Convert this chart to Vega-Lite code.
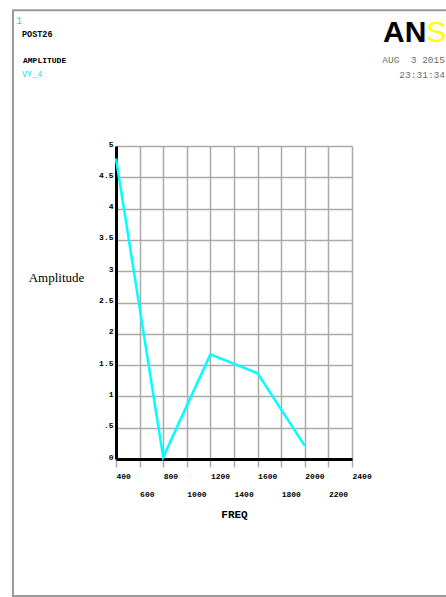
{
  "$schema": "https://vega.github.io/schema/vega-lite/v6.json",
  "autosize": {"type": "none"},
  "width": 236,
  "height": 313,
  "padding": {"left": 116, "top": 146, "right": 94, "bottom": 138},
  "background": "white",
  "config": {"view": {"stroke": null}},
  "resolve": {"scale": {"x": "shared", "y": "shared"}, "axis": {"x": "independent", "y": "independent"}},
  "data": {"values": [
    {"FREQ": 400, "VY_4": 4.8},
    {"FREQ": 800, "VY_4": 0.03},
    {"FREQ": 1200, "VY_4": 1.67},
    {"FREQ": 1600, "VY_4": 1.37},
    {"FREQ": 2000, "VY_4": 0.21}
  ]},
  "layer": [
    {
      "data": {"values": [{"t": ""}]},
      "mark": {"type": "rect", "fill": null, "fillOpacity": 0, "stroke": "#999999", "strokeWidth": 2},
      "encoding": {
        "x": {"datum": -473, "type": "quantitative", "axis": null},
        "x2": {"datum": 3330},
        "y": {"datum": 7.17, "type": "quantitative", "axis": null},
        "y2": {"datum": -2.19}
      }
    },
    {
      "mark": {"type": "line", "color": "#00ffff", "strokeWidth": 2.5},
      "encoding": {
        "x": {
          "field": "FREQ", "type": "quantitative",
          "scale": {"domain": [400, 2400], "nice": false, "zero": false},
          "axis": {
            "title": "FREQ",
            "titleFont": "Liberation Mono", "titleFontSize": 11, "titleFontWeight": "bold", "titleColor": "black",
            "titlePadding": 10,
            "values": [400, 600, 800, 1000, 1200, 1400, 1600, 1800, 2000, 2200, 2400],
            "format": "d",
            "labelExpr": "datum.value % 400 == 0 ? datum.label : ['', datum.label]",
            "labelAlign": "left", "labelBaseline": "top", "labelPadding": 5,
            "labelLineHeight": 18,
            "labelFont": "Liberation Mono", "labelFontSize": 8, "labelFontWeight": "bold", "labelColor": "black",
            "labelOverlap": false, "labelFlush": false, "labelBound": false,
            "domainColor": "black", "domainWidth": 3,
            "grid": true, "gridColor": "#aaaaaa", "gridWidth": 1.5,
            "ticks": true, "tickColor": "#aaaaaa", "tickSize": 8, "tickWidth": 1.5
          }
        },
        "y": {
          "field": "VY_4", "type": "quantitative",
          "scale": {"domain": [0, 5], "nice": false},
          "axis": {
            "title": "Amplitude",
            "titleFont": "Liberation Serif", "titleFontSize": 13, "titleFontWeight": "normal", "titleColor": "black",
            "titleAngle": 0, "titleX": -60, "titleY": 131, "titleAlign": "center", "titleBaseline": "middle",
            "values": [0, 0.5, 1, 1.5, 2, 2.5, 3, 3.5, 4, 4.5, 5],
            "labelExpr": "datum.value == 0 ? '0' : (datum.value < 1 ? '.5' : format(datum.value, ''))",
            "labelAlign": "right", "labelBaseline": "alphabetic", "labelPadding": 3,
            "labelFont": "Liberation Mono", "labelFontSize": 8, "labelFontWeight": "bold", "labelColor": "black",
            "labelOverlap": false, "labelFlush": false, "labelBound": false,
            "domainColor": "black", "domainWidth": 3,
            "grid": true, "gridColor": "#aaaaaa", "gridWidth": 1.5,
            "ticks": false, "tickSize": 0
          }
        }
      }
    },
    {
      "data": {"values": [{"t": "1"}]},
      "mark": {"type": "text", "align": "left", "baseline": "alphabetic", "font": "Liberation Mono", "fontSize": 10, "color": "#00e8e8"},
      "encoding": {
        "x": {"datum": -447, "type": "quantitative", "axis": null},
        "y": {"datum": 6.95, "type": "quantitative", "axis": null},
        "text": {"field": "t"}
      }
    },
    {
      "data": {"values": [{"t": "POST26"}]},
      "mark": {"type": "text", "align": "left", "baseline": "alphabetic", "font": "Liberation Mono", "fontSize": 8.5, "fontWeight": "bold", "color": "black"},
      "encoding": {
        "x": {"datum": -397, "type": "quantitative", "axis": null},
        "y": {"datum": 6.74, "type": "quantitative", "axis": null},
        "text": {"field": "t"}
      }
    },
    {
      "data": {"values": [{"t": "AMPLITUDE"}]},
      "mark": {"type": "text", "align": "left", "baseline": "alphabetic", "font": "Liberation Mono", "fontSize": 8, "fontWeight": "bold", "color": "black"},
      "encoding": {
        "x": {"datum": -388, "type": "quantitative", "axis": null},
        "y": {"datum": 6.33, "type": "quantitative", "axis": null},
        "text": {"field": "t"}
      }
    },
    {
      "data": {"values": [{"t": "VY_4"}]},
      "mark": {"type": "text", "align": "left", "baseline": "alphabetic", "font": "Liberation Mono", "fontSize": 8.5, "color": "#00e8e8"},
      "encoding": {
        "x": {"datum": -397, "type": "quantitative", "axis": null},
        "y": {"datum": 6.1, "type": "quantitative", "axis": null},
        "text": {"field": "t"}
      }
    },
    {
      "data": {"values": [{"t": "AN"}]},
      "mark": {"type": "text", "align": "left", "baseline": "alphabetic", "font": "Liberation Sans", "fontSize": 30, "fontWeight": "bold", "color": "black"},
      "encoding": {
        "x": {"datum": 2663, "type": "quantitative", "axis": null},
        "y": {"datum": 6.66, "type": "quantitative", "axis": null},
        "text": {"field": "t"}
      }
    },
    {
      "data": {"values": [{"t": "SYS"}]},
      "mark": {"type": "text", "align": "left", "baseline": "alphabetic", "font": "Liberation Sans", "fontSize": 30, "color": "#ffff00"},
      "encoding": {
        "x": {"datum": 3030, "type": "quantitative", "axis": null},
        "y": {"datum": 6.66, "type": "quantitative", "axis": null},
        "text": {"field": "t"}
      }
    },
    {
      "data": {"values": [{"t": "AUG\u00a0 3 2015"}]},
      "mark": {"type": "text", "align": "right", "baseline": "alphabetic", "font": "Liberation Mono", "fontSize": 9.5, "color": "#6e6e6e"},
      "encoding": {
        "x": {"datum": 3188, "type": "quantitative", "axis": null},
        "y": {"datum": 6.33, "type": "quantitative", "axis": null},
        "text": {"field": "t"}
      }
    },
    {
      "data": {"values": [{"t": "23:31:34"}]},
      "mark": {"type": "text", "align": "right", "baseline": "alphabetic", "font": "Liberation Mono", "fontSize": 9.5, "color": "#6e6e6e"},
      "encoding": {
        "x": {"datum": 3188, "type": "quantitative", "axis": null},
        "y": {"datum": 6.09, "type": "quantitative", "axis": null},
        "text": {"field": "t"}
      }
    }
  ]
}
